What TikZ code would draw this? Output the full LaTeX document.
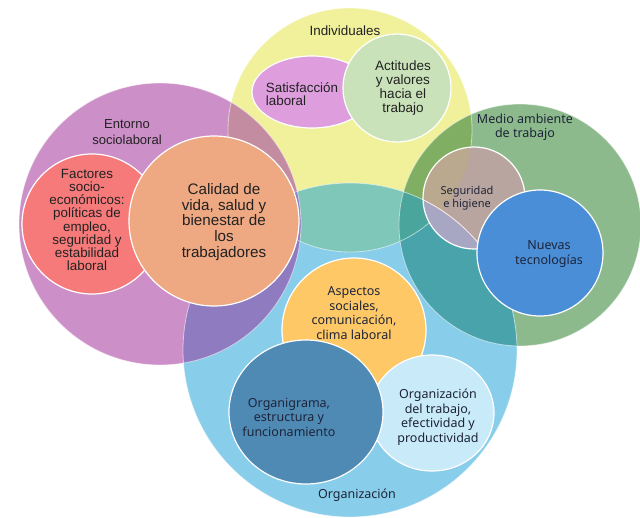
\documentclass[tikz,border=0pt]{standalone}
\usepackage{fontspec}
\setmainfont{Liberation Sans}
\newfontfamily\aptos{Noto Sans}
\definecolor{cY}{HTML}{F1F19B}
\definecolor{cP}{HTML}{CC8FC8}
\definecolor{cG}{HTML}{8DBA8D}
\definecolor{cB}{HTML}{88CDEA}
\definecolor{cPY}{HTML}{C48CA1}
\definecolor{cPB}{HTML}{8E7BC0}
\definecolor{cYB}{HTML}{7EC7B9}
\definecolor{cGB}{HTML}{48A4AA}
\definecolor{cGY}{HTML}{80AE62}
\definecolor{cGYB}{HTML}{4AA69C}
\definecolor{cSat}{HTML}{DE9EDE}
\definecolor{cAct}{HTML}{C9E2B9}
\definecolor{cFac}{HTML}{F77A7A}
\definecolor{cCal}{HTML}{EEA882}
\definecolor{cSeg}{HTML}{B9A59F}
\definecolor{cSegY}{HTML}{BBA98F}
\definecolor{cSegB}{HTML}{A8A7C3}
\definecolor{cNue}{HTML}{4A8ED8}
\definecolor{cAsp}{HTML}{FDC865}
\definecolor{cOT}{HTML}{C9EAF8}
\definecolor{cOrg}{HTML}{4F8AB5}
\definecolor{txt}{HTML}{222222}
\definecolor{txtb}{HTML}{1E2438}
\begin{document}
\begin{tikzpicture}[x=1pt,y=-1pt,
  lab/.style={align=center, text=txt, inner sep=0pt},
  apt/.style={lab, text=txtb, font=\aptos\fontsize{12.5}{14.5}\selectfont},
  inner/.style={draw=white, line width=1.2pt},
  outl/.style={draw=white, draw opacity=0.55, line width=0.8pt}]
\useasboundingbox (0,0) rectangle (640,517);
\fill[white] (0,0) rectangle (640,517);
% big circles
\fill[cY] (350,130) circle[radius=122pt];
\fill[cG] (520,225) circle[radius=121pt];
\fill[cB] (350,350) circle[radius=167pt];
\fill[cP] (160,224) circle[radius=141pt];
% overlaps with the yellow circle
\begin{scope}
  \clip (350,130) circle[radius=122pt];
  \fill[cPY] (160,224) circle[radius=141pt];
  \fill[cYB] (350,350) circle[radius=167pt];
  \fill[cGY] (520,225) circle[radius=121pt];
  \clip (350,350) circle[radius=167pt];
  \fill[cGYB] (520,225) circle[radius=121pt];
\end{scope}
% purple over blue
\begin{scope}
  \clip (350,350) circle[radius=167pt];
  \fill[cPB] (160,224) circle[radius=141pt];
\end{scope}
% green and blue, outside yellow
\begin{scope}[even odd rule]
  \clip (350,350) circle[radius=167pt];
  \clip (520,225) circle[radius=121pt];
  \clip (-10,-10) rectangle (700,600) (350,130) circle[radius=122pt];
  \fill[cGB] (-10,-10) rectangle (700,600);
\end{scope}
% outlines of big circles
\draw[outl] (350,130) circle[radius=122pt];
\draw[outl] (520,225) circle[radius=121pt];
\draw[outl] (350,350) circle[radius=167pt];
\draw[outl] (160,224) circle[radius=141pt];
% inner shapes: individuales
\fill[cSat, inner] (312,92) ellipse[x radius=60pt, y radius=36pt];
\fill[cAct, inner] (397,88) circle[radius=54pt];
% entorno
\fill[cFac, inner] (92,224) circle[radius=70pt];
\fill[cCal, inner] (214,221) circle[radius=85pt];
% medio ambiente
\fill[cSeg] (474,198) circle[radius=51pt];
\begin{scope}
  \clip (474,198) circle[radius=51pt];
  \fill[cSegY] (350,130) circle[radius=122pt];
  \fill[cSegB] (350,350) circle[radius=167pt];
  \draw[white!70!pink, line width=0.8pt] (350,350) circle[radius=167pt];
\end{scope}
\draw[inner] (474,198) circle[radius=51pt];
\fill[cNue, inner] (540,253) circle[radius=63pt];
% organizacion
\fill[cAsp, inner] (354,330) circle[radius=72pt];
\fill[cOT, inner] (432,413) ellipse[x radius=62pt, y radius=58pt];
\fill[cOrg, inner] (306,412) ellipse[x radius=77pt, y radius=72pt];
% labels
\node[lab, font=\fontsize{13.4}{14}\selectfont] (indiv) at (345,31) {Individuales};
\node[lab, align=left, font=\fontsize{13.4}{13.2}\selectfont] (satis) at (302,94) {Satisfacción\\laboral};
\node[lab, font=\fontsize{13.5}{14}\selectfont] (actit) at (403,88) {Actitudes\\y valores\\hacia el\\trabajo};
\node[lab, font=\fontsize{13}{16}\selectfont] (entorno) at (127,132) {Entorno\\sociolaboral};
\node[lab, font=\fontsize{13.4}{13.2}\selectfont] (factores) at (87,220) {Factores\\socio-\\económicos:\\políticas de\\empleo,\\seguridad y\\estabilidad\\laboral};
\node[lab, font=\fontsize{15.2}{15.8}\selectfont] (calidad) at (224,222) {Calidad de\\vida, salud y\\bienestar de\\los\\trabajadores};
\node[apt] (medio) at (525,127) {Medio ambiente\\de trabajo};
\node[apt, font=\aptos\fontsize{11}{12.7}\selectfont] (segur) at (467,198) {Seguridad\\e higiene};
\node[apt] (nuevas) at (549,254) {Nuevas\\tecnologías};
\node[apt] (aspectos) at (354,313) {Aspectos\\sociales,\\comunicación,\\clima laboral};
\node[apt] (organig) at (289,417) {Organigrama,\\estructura y\\funcionamiento};
\node[apt] (orgtrab) at (438,417) {Organización\\del trabajo,\\efectividad y\\productividad};
\node[apt] (orgzn) at (357,495) {Organización};
\end{tikzpicture}
\end{document}
